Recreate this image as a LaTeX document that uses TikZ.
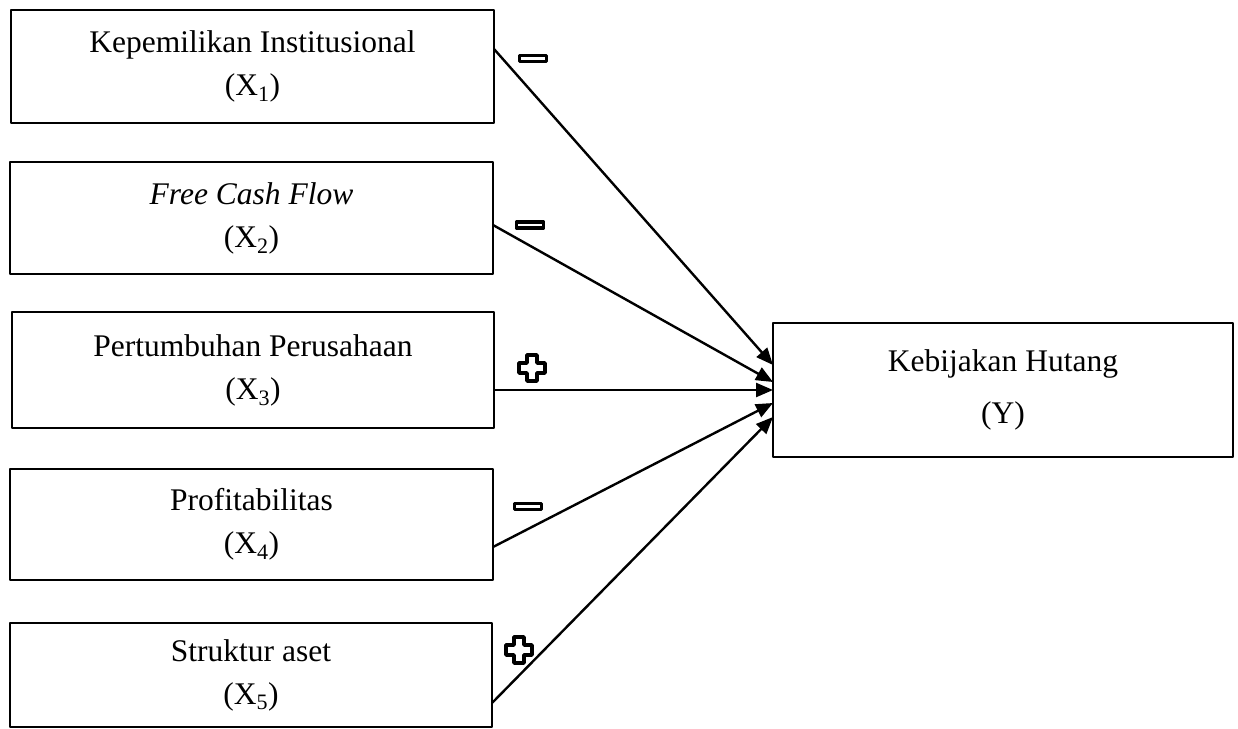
\documentclass[tikz,border=0pt]{standalone}
\usepackage{fontspec}
\setmainfont{Liberation Serif}
\usetikzlibrary{arrows.meta}
\tikzset{
	varbox/.style={draw, rectangle, line width=2.8pt, outer sep=0pt, align=center, minimum width=483pt, font=\fontsize{31.5}{43}\selectfont},
	link/.style={->, line width=2.4pt},
	minussign/.style={draw, line width=3.2pt, fill=white, minimum width=27pt, minimum height=6pt, inner sep=0pt, outer sep=0pt},
	plussign/.pic={\draw[line width=3.6pt, fill=white] (-5,-13)--(5,-13)--(5,-5)--(13,-5)--(13,5)--(5,5)--(5,13)--(-5,13)--(-5,5)--(-13,5)--(-13,-5)--(-5,-5)--cycle;}
}
\begin{document}
\begin{tikzpicture}[x=1pt, y=-1pt, >={Triangle[length=17pt,width=14pt]}, line join=round]
		%	\draw[color=gray!50] (0,0) grid[step=50] (1238,728);
		\useasboundingbox (0,0) rectangle (1238,728);
		\node[varbox, minimum height=113pt] (x1) at (252.5,66.5) {Kepemilikan Institusional\\(X\textsubscript{1})};
		\node[varbox, minimum height=112pt] (x2) at (251.5,218) {\textit{Free Cash Flow}\\(X\textsubscript{2})};
		\node[varbox, minimum width=482pt, minimum height=116pt] (x3) at (253,370) {Pertumbuhan Perusahaan\\(X\textsubscript{3})};
		\node[varbox, minimum height=111pt] (x4) at (251.5,524.5) {Profitabilitas\\(X\textsubscript{4})};
		\node[varbox, minimum width=482pt, minimum height=104pt] (x5) at (251,675) {Struktur aset\\(X\textsubscript{5})};
		\node[varbox, minimum width=460pt, minimum height=134pt, font=\fontsize{31.5}{52}\selectfont] (y) at (1003,390) {Kebijakan Hutang\\(Y)};
		% panah ke Y
		\draw[link] ([yshift=17.5pt]x1.east) -- ([yshift=25pt]y.west);
		\draw[link] ([yshift=-7pt]x2.east) -- ([yshift=8pt]y.west);
		\draw[link] ([yshift=-20pt]x3.east) -- (y.west);
		\draw[link] ([yshift=-22.5pt]x4.east) -- ([yshift=-13pt]y.west);
		\draw[link] ([yshift=-28pt]x5.east) -- ([yshift=-27pt]y.west);
		% tanda
		\node[minussign] (m1) at (533,58.5) {};
		\node[minussign] (m2) at (530,225) {};
		\pic at (532,368) {plussign};
		\node[minussign] (m4) at (528,506.5) {};
		\pic at (519,650) {plussign};
\end{tikzpicture}
\end{document}
